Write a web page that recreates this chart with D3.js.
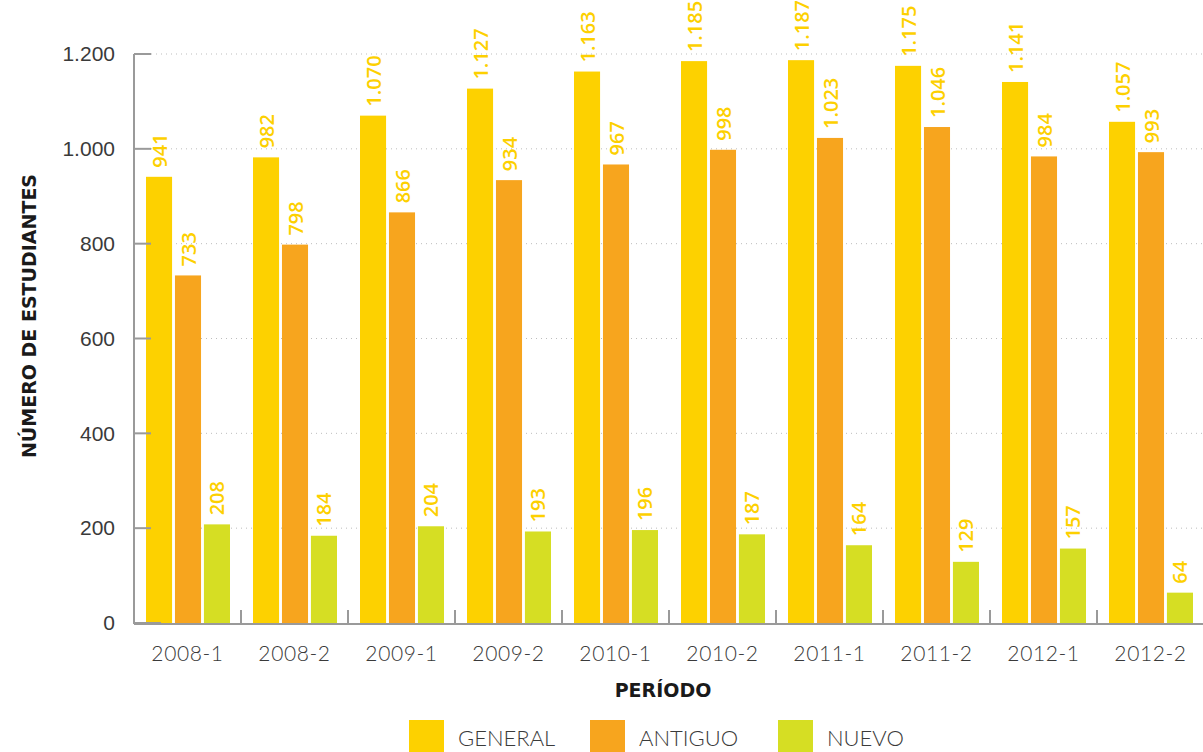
<!DOCTYPE html>
<html lang="es">
<head>
  <meta charset="UTF-8" />
  <title>Número de estudiantes por período</title>
  <style>
    body {
      margin: 0;
      background: #fff;
      font-family: Lato, "Open Sans", sans-serif;
    }
    .tick-label { fill: #3a3a3a; font-size: 21px; font-weight: 300; }
    .x-label { letter-spacing: 0.6px; }
    .value-label { fill: #fdd000; font-size: 20px; font-weight: 600; font-family: "Open Sans", sans-serif; }
    .axis-title { fill: #1a1a1a; font-size: 19px; font-weight: 700; font-family: "DejaVu Sans", sans-serif; }
    .legend-label { fill: #3a3a3a; font-size: 22px; font-weight: 300; }
  </style>
  <script src="https://d3js.org/d3.v7.min.js"></script>
</head>
<body>
  <svg id="chart"></svg>

  <script>
    const width = 1203;
    const height = 752;

    // data
    const periods = ["2008-1", "2008-2", "2009-1", "2009-2", "2010-1", "2010-2", "2011-1", "2011-2", "2012-1", "2012-2"];
    const general = [941, 982, 1070, 1127, 1163, 1185, 1187, 1175, 1141, 1057];
    const antiguo = [733, 798, 866, 934, 967, 998, 1023, 1046, 984, 993];
    const nuevo = [208, 184, 204, 193, 196, 187, 164, 129, 157, 64];
    const seriesNames = ["GENERAL", "ANTIGUO", "NUEVO"];
    const seriesColors = ["#fdd100", "#f7a51e", "#d6de23"];
    const yTicks = [0, 200, 400, 600, 800, 1000, 1200];

    const seriesValues = [general, antiguo, nuevo];

    const es = d3.formatLocale({ decimal: ",", thousands: ".", grouping: [3], currency: ["$", ""] });
    const fmt = es.format(",d");

    const svg = d3.select("#chart")
      .attr("width", width)
      .attr("height", height);

    const plotLeft = 134, plotRight = 1204, plotTop = 54, plotBottom = 623;

    const x = d3.scaleBand()
      .domain(periods)
      .range([plotLeft, plotRight]);

    const xInner = d3.scaleBand()
      .domain(seriesNames)
      .range([12, x.bandwidth() - 11])
      .paddingInner(0.1);

    const y = d3.scaleLinear()
      .domain([0, 1200])
      .range([plotBottom, plotTop]);

    // dotted gridlines
    svg.append("g")
      .selectAll("line")
      .data(yTicks.slice(1))
      .join("line")
      .attr("x1", plotLeft + 17)
      .attr("x2", width)
      .attr("y1", d => y(d))
      .attr("y2", d => y(d))
      .attr("stroke", "#bdbdbd")
      .attr("stroke-width", 1)
      .attr("stroke-dasharray", "1,4");

    // bars
    const groups = svg.append("g")
      .selectAll("g")
      .data(periods)
      .join("g")
      .attr("transform", d => `translate(${x(d)},0)`);

    groups.selectAll("rect")
      .data((p, i) => seriesNames.map((s, k) => ({ s, k, v: seriesValues[k][i] })))
      .join("rect")
      .attr("x", d => xInner(d.s))
      .attr("width", xInner.bandwidth())
      .attr("y", d => y(d.v))
      .attr("height", d => y(0) - y(d.v))
      .attr("fill", d => seriesColors[d.k]);

    groups.selectAll("text")
      .data((p, i) => seriesNames.map((s, k) => ({ s, k, v: seriesValues[k][i] })))
      .join("text")
      .attr("class", "value-label")
      .attr("transform", d => `translate(${xInner(d.s) + xInner.bandwidth() / 2},${y(d.v) - 9}) rotate(-90)`)
      .attr("dominant-baseline", "central")
      .attr("text-anchor", "start")
      .text(d => fmt(d.v));

    // y axis
    const yAxis = svg.append("g")
      .attr("transform", `translate(${plotLeft},0)`)
      .call(d3.axisLeft(y).tickValues(yTicks).tickSize(0).tickPadding(19).tickFormat(fmt));
    yAxis.select(".domain").remove();
    yAxis.selectAll("text").attr("class", "tick-label").attr("fill", null);
    yAxis.selectAll(".tick line").remove();

    svg.append("line")
      .attr("x1", plotLeft).attr("x2", plotLeft)
      .attr("y1", plotTop).attr("y2", plotBottom + 1)
      .attr("stroke", "#9a9a9a").attr("stroke-width", 2);

    svg.append("g")
      .selectAll("line")
      .data(yTicks)
      .join("line")
      .attr("x1", plotLeft).attr("x2", d => d === 0 ? plotLeft + 27 : plotLeft + 17)
      .attr("y1", d => y(d)).attr("y2", d => y(d))
      .attr("stroke", "#9a9a9a").attr("stroke-width", 2);

    // x axis
    svg.append("line")
      .attr("x1", plotLeft).attr("x2", width)
      .attr("y1", plotBottom + 1).attr("y2", plotBottom + 1)
      .attr("stroke", "#9a9a9a").attr("stroke-width", 2);

    svg.append("g")
      .selectAll("line")
      .data(periods.slice(1))
      .join("line")
      .attr("x1", d => x(d)).attr("x2", d => x(d))
      .attr("y1", plotBottom - 13).attr("y2", plotBottom + 1)
      .attr("stroke", "#9a9a9a").attr("stroke-width", 2);

    svg.append("g")
      .selectAll("text")
      .data(periods)
      .join("text")
      .attr("class", "tick-label x-label")
      .attr("x", d => x(d) + x.bandwidth() / 2)
      .attr("y", 661)
      .attr("text-anchor", "middle")
      .text(d => d);

    // axis titles
    svg.append("text")
      .attr("class", "axis-title")
      .attr("transform", "translate(29,316) rotate(-90)")
      .attr("text-anchor", "middle")
      .attr("dominant-baseline", "central")
      .text("NÚMERO DE ESTUDIANTES");

    svg.append("text")
      .attr("class", "axis-title")
      .attr("x", 663)
      .attr("y", 697)
      .attr("text-anchor", "middle")
      .text("PERÍODO");

    // legend
    const legendX = [409, 590, 778];
    const legend = svg.append("g")
      .selectAll("g")
      .data(seriesNames)
      .join("g")
      .attr("transform", (d, i) => `translate(${legendX[i]},720)`);

    legend.append("rect")
      .attr("width", 35)
      .attr("height", 34)
      .attr("fill", (d, i) => seriesColors[i]);

    legend.append("text")
      .attr("class", "legend-label")
      .attr("x", 49)
      .attr("y", 26)
      .text(d => d);
  </script>
</body>
</html>
